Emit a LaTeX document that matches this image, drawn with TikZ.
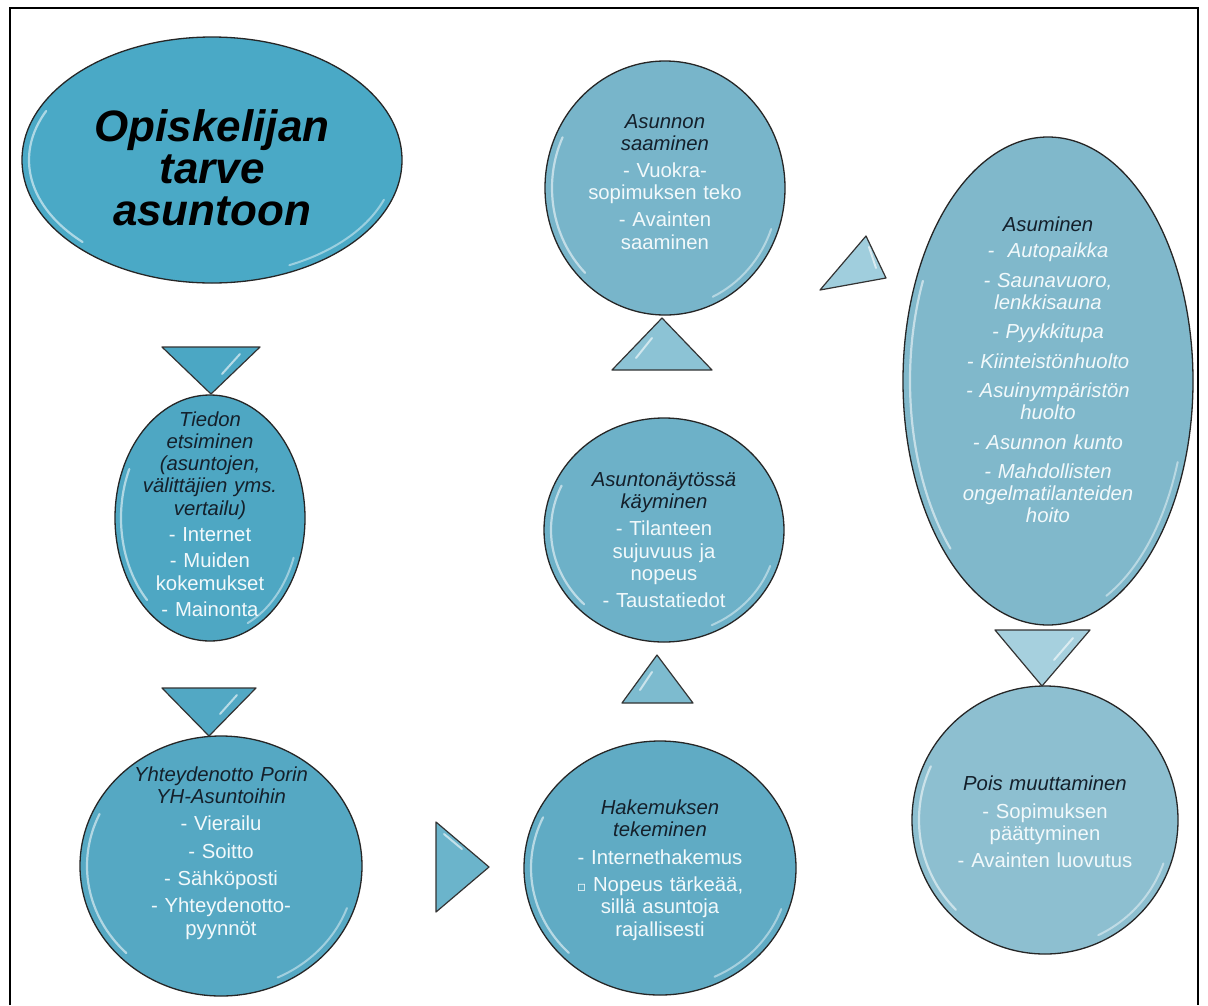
\documentclass[tikz,border=0pt]{standalone}
\usepackage{fontspec}
\setmainfont{Liberation Sans}
\newfontfamily\dejavu{DejaVu Sans}
\usetikzlibrary{shapes.geometric}
\definecolor{hdc}{HTML}{14202B}
\definecolor{itc}{HTML}{F2F9FB}
\definecolor{cA}{HTML}{4AA9C6}
\definecolor{cB}{HTML}{4EA7C3}
\definecolor{cC}{HTML}{55A8C3}
\definecolor{cD}{HTML}{60ABC4}
\definecolor{cE}{HTML}{6DB1C8}
\definecolor{cF}{HTML}{78B5CA}
\definecolor{cG}{HTML}{80B8CB}
\definecolor{cH}{HTML}{8DBFD0}
\definecolor{tA}{HTML}{4BA7C4}
\definecolor{tB}{HTML}{52A8C4}
\definecolor{tC}{HTML}{6BB4CB}
\definecolor{tD}{HTML}{7DBBCF}
\definecolor{tE}{HTML}{8CC3D5}
\definecolor{tF}{HTML}{A0CEDD}
\definecolor{tG}{HTML}{A6D0DE}
\newcommand\hd[1]{{\color{hdc}\itshape #1}}
\newcommand\gloss[3]{%
  \draw[white, opacity=0.55, line width=2.2pt, line cap=round]
    (#1.center) ++(155:#2 and #3) arc[start angle=155, end angle=225, x radius=#2, y radius=#3];
  \draw[white, opacity=0.45, line width=2pt, line cap=round]
    (#1.center) ++(295:#2 and #3) arc[start angle=295, end angle=340, x radius=#2, y radius=#3];}
\begin{document}
\begin{tikzpicture}[x=1pt, y=-1pt,
  blob/.style={ellipse, draw=black!85, line width=1.3pt, inner sep=0pt},
  tri/.style={draw=black!80, line width=1.2pt, line join=round},
  txt/.style={align=center, text width=#1, inner sep=0pt, text=itc,
              font=\fontsize{20.3}{22.3}\selectfont},
  shine/.style={white, opacity=0.6, line width=2pt, line cap=round}]
\useasboundingbox (0,0) rectangle (1208,1005);
\fill[white] (0,0) rectangle (1208,1005);
\draw[line width=2pt] (10,1005) -- (10,8) -- (1198,8) -- (1198,1005);

% ellipses
\node[blob, fill=cA, minimum width=380pt, minimum height=246pt] (e1) at (212,160) {};
\node[blob, fill=cB, minimum width=190pt, minimum height=246pt] (e2) at (210,518) {};
\node[blob, fill=cC, minimum width=282pt, minimum height=260pt] (e3) at (221,866) {};
\node[blob, fill=cD, minimum width=272pt, minimum height=254pt] (e4) at (660,868) {};
\node[blob, fill=cE, minimum width=240pt, minimum height=224pt] (e5) at (664,530) {};
\node[blob, fill=cF, minimum width=240pt, minimum height=254pt] (e6) at (665,188) {};
\node[blob, fill=cG, minimum width=290pt, minimum height=488pt] (e7) at (1048,381) {};
\node[blob, fill=cH, minimum width=266pt, minimum height=268pt] (e8) at (1045,820) {};
\gloss{e1}{183pt}{116pt}
\gloss{e2}{89pt}{116pt}
\gloss{e3}{134pt}{123pt}
\gloss{e4}{129pt}{120pt}
\gloss{e5}{113pt}{105pt}
\gloss{e6}{113pt}{120pt}
\gloss{e7}{138pt}{237pt}
\gloss{e8}{126pt}{127pt}

% triangles
\draw[tri, fill=tA] (162,347) -- (260,347) -- (211,394) -- cycle;
\draw[shine] (240,354) -- (222,374);
\draw[tri, fill=tB] (162,688) -- (256,688) -- (209,736) -- cycle;
\draw[shine] (237,695) -- (220,714);
\draw[tri, fill=tC] (436,822) -- (489,867) -- (436,912) -- cycle;
\draw[shine] (444,834) -- (462,849);
\draw[tri, fill=tD] (622,703) -- (693,703) -- (657,655) -- cycle;
\draw[shine] (640,690) -- (652,672);
\draw[tri, fill=tE] (612,370) -- (712,370) -- (662,318) -- cycle;
\draw[shine] (636,358) -- (652,338);
\draw[tri, fill=tF] (820,290) -- (866,236) -- (886,278) -- cycle;
\draw[shine] (869,247) -- (876,268);
\draw[tri, fill=tG] (995,630) -- (1090,630) -- (1042,686) -- cycle;
\draw[shine] (1073,638) -- (1054,660);

% texts
\node[align=center, inner sep=0pt, font=\fontsize{44}{42}\selectfont\bfseries\itshape] (t1) at (212,168)
  {Opiskelijan\\tarve\\asuntoon};
\node[txt=210pt] (t2) at (210,514)
  {\hd{Tiedon\\etsiminen\\(asuntojen,\\välittäjien yms.\\vertailu)}\\[4pt]
   - Internet\\[4pt]- Muiden\\kokemukset\\[4pt]- Mainonta};
\node[txt=250pt] (t3) at (221,853)
  {\hd{Yhteydenotto\ Porin\\YH-Asuntoihin}\\[5pt]
   - Vierailu\\[5pt]- Soitto\\[5pt]- Sähköposti\\[5pt]- Yhteydenotto-\\pyynnöt};
\node[txt=250pt] (t4) at (660,870)
  {\hd{Hakemuksen\\tekeminen}\\[5pt]
   - Internethakemus\\[5pt]{\dejavu\fontsize{14}{14}\selectfont ▫} Nopeus tärkeää,\\sillä asuntoja\\rajallisesti};
\node[txt=220pt] (t5) at (664,540)
  {\hd{Asuntonäytössä\\käyminen}\\[5pt]
   - Tilanteen\\sujuvuus ja\\nopeus\\[5pt]- Taustatiedot};
\node[txt=220pt] (t6) at (665,182)
  {\hd{Asunnon\\saaminen}\\[4pt]
   - Vuokra-\\sopimuksen teko\\[5pt]- Avainten\\saaminen};
\node[txt=280pt] (t7) at (1048,370)
  {\hd{Asuminen}\\[4pt]\itshape
   -\ \ Autopaikka\\[7pt]- Saunavuoro,\\lenkkisauna\\[7pt]- Pyykkitupa\\[7pt]- Kiinteistönhuolto\\[7pt]
   - Asuinympäristön\\huolto\\[7pt]- Asunnon kunto\\[7pt]- Mahdollisten\\ongelmatilanteiden\\hoito};
\node[txt=250pt] (t8) at (1045,822)
  {\hd{Pois muuttaminen}\\[5pt]
   - Sopimuksen\\päättyminen\\[5pt]- Avainten luovutus};
\end{tikzpicture}
\end{document}
